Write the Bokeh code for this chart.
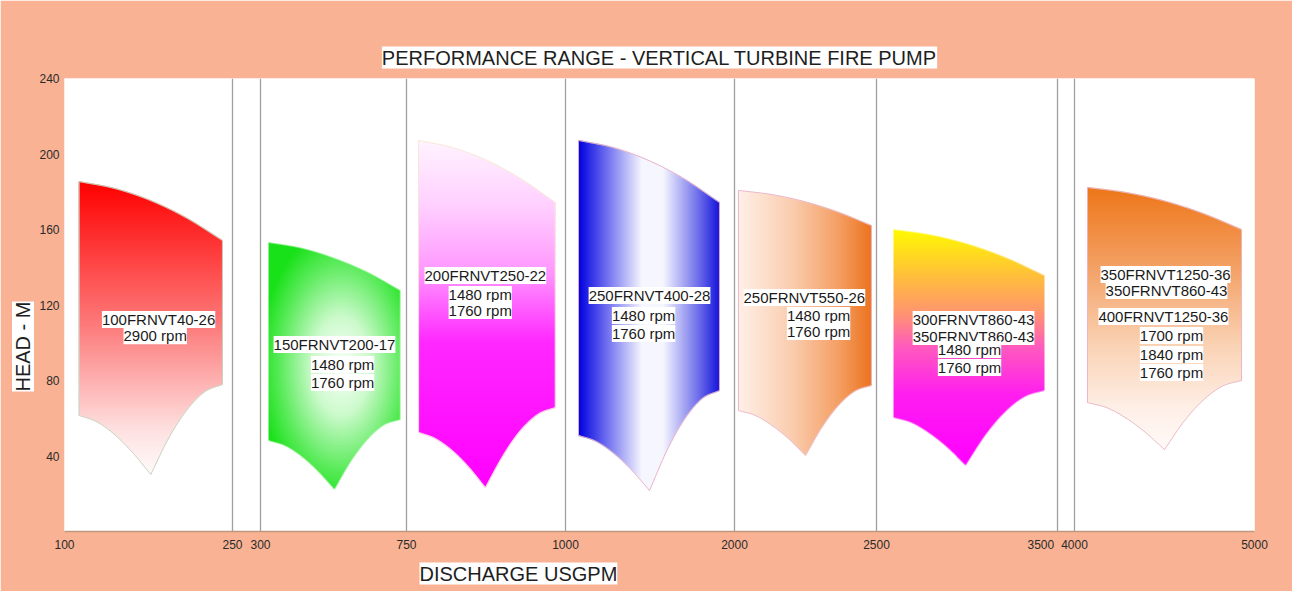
import numpy as np
from bokeh.plotting import figure
from bokeh.models import FixedTicker, Range1d, LabelSet, ColumnDataSource, Title
from bokeh.core.properties import value
from bokeh.embed import file_html
from bokeh.resources import INLINE

# ------------------------------------------------------------------ data
Q_BREAKS = [100, 250, 300, 750, 1000, 2000, 2500, 3500, 4000, 5000]
X_TICK_LABELS = ["100", "250", "300", "750", "1000", "2000", "2500", "3500", "4000", "5000"]
H_TICKS = [40, 80, 120, 160, 200, 240]

PUMPS = ["100FRNVT40-26", "150FRNVT200-17", "200FRNVT250-22", "250FRNVT400-28",
         "250FRNVT550-26", "300FRNVT860-43", "350FRNVT1250-36"]

# envelope outlines (discharge USGPM, head m):
# 5 points on the top curve, 5 on the right lower arc, 5 on the left lower arc (cusp shared)
q_100 = [113, 145, 177, 209, 241, 241, 225, 209, 193, 177, 161, 145, 129, 113]
h_100 = [185.4, 181.7, 175.3, 166.1, 154.2, 77.9, 74.0, 64.2, 49.5, 30.2, 41.7, 51.2, 58.1, 61.5]
q_150 = [325, 427, 528, 630, 731, 731, 680, 630, 579, 528, 477, 427, 376, 325]
h_150 = [153.1, 150.1, 144.8, 137.4, 127.7, 59.3, 56.3, 48.7, 37.2, 22.3, 31.9, 39.7, 45.4, 48.2]
q_200 = [769, 823, 877, 930, 984, 984, 957, 929, 902, 874, 848, 822, 795, 769]
h_200 = [207.2, 203.3, 196.5, 186.8, 174.3, 65.7, 62.2, 53.5, 40.4, 23.3, 34.1, 42.9, 49.3, 52.5]
q_250a = [1077, 1286, 1494, 1703, 1911, 1911, 1808, 1704, 1601, 1497, 1392, 1287, 1182, 1077]
h_250a = [207.2, 203.3, 196.5, 186.8, 174.3, 74.7, 70.4, 59.5, 43.1, 21.7, 32.5, 41.3, 47.7, 50.9]
q_250b = [2014, 2131, 2248, 2365, 2482, 2482, 2424, 2366, 2308, 2250, 2191, 2132, 2073, 2014]
h_250b = [180.7, 178.5, 174.7, 169.2, 162.1, 77.4, 74.4, 66.8, 55.3, 40.3, 49.1, 56.2, 61.5, 64.1]
q_300 = [2594, 2803, 3011, 3220, 3428, 3428, 3319, 3210, 3101, 2992, 2893, 2793, 2694, 2594]
h_300 = [160.0, 157.1, 152.1, 144.9, 135.6, 74.7, 71.4, 63.3, 51.0, 35.0, 44.4, 52.0, 57.6, 60.4]
q_350 = [4072, 4286, 4500, 4714, 4928, 4928, 4821, 4714, 4607, 4500, 4393, 4286, 4179, 4072]
h_350 = [182.3, 179.6, 175.1, 168.5, 160.0, 80.0, 77.0, 69.5, 58.2, 43.4, 52.6, 60.1, 65.6, 68.3]

LABEL_TEXT = ["100FRNVT40-26", "2900 rpm",
              "150FRNVT200-17", "1480 rpm", "1760 rpm",
              "200FRNVT250-22", "1480 rpm", "1760 rpm",
              "250FRNVT400-28", "1480 rpm", "1760 rpm",
              "250FRNVT550-26", "1480 rpm", "1760 rpm",
              "300FRNVT860-43", "350FRNVT860-43", "1480 rpm", "1760 rpm",
              "350FRNVT1250-36", "350FRNVT860-43", "400FRNVT1250-36",
              "1700 rpm", "1840 rpm", "1760 rpm"]
LABEL_Q = [184, 181,
           528, 553, 553,
           874, 866, 866,
           1497, 1462, 1462,
           2246, 2296, 2296,
           3036, 3036, 3014, 3014,
           4506, 4511, 4494, 4539, 4539, 4539]
LABEL_H = [112.3, 103.7,
           99.1, 88.5, 78.9,
           135.6, 125.6, 117.1,
           125.0, 114.4, 104.9,
           124.0, 114.4, 106.0,
           112.3, 103.3, 96.4, 86.9,
           136.2, 127.7, 113.9, 103.8, 93.8, 84.2]

# ------------------------------------------------------------------ layout / style
POS_BREAKS = [0, 168, 196, 342, 501, 670, 812, 993, 1010, 1190]   # axis segment positions (px)
W, HGT = 1292, 591
B_LEFT, B_RIGHT, B_TOP, B_BOTTOM = 64, 38, 78, 60
FRAME_W = W - B_LEFT - B_RIGHT
FRAME_H = HGT - B_TOP - B_BOTTOM
H_MAX = 240
PX_PER_H = FRAME_H / H_MAX
SALMON = "#F9B394"
FONT = "Liberation Sans"

STYLES = [
    dict(kind="v", stops=[(0, (255, 0, 0)), (0.5, (253, 125, 125)), (0.85, (254, 225, 225)), (1, (255, 250, 250))],
         line="#c0cdb8"),
    dict(kind="r", center=(0.55, 0.5, 0.62, 0.56),
         stops=[(0, (250, 255, 250)), (0.35, (205, 250, 205)), (0.75, (90, 235, 90)), (1, (25, 225, 25))],
         line=None),
    dict(kind="v", stops=[(0, (255, 244, 255)), (0.2, (255, 205, 255)), (0.38, (255, 150, 255)),
                          (0.58, (255, 40, 255)), (1, (255, 0, 255))], line="#f6e6d0"),
    dict(kind="h", stops=[(0, (0, 0, 225)), (0.2, (110, 110, 240)), (0.45, (246, 246, 255)),
                          (0.6, (246, 246, 255)), (0.85, (110, 110, 235)), (1, (20, 20, 220))],
         line="#e8a8c0"),
    dict(kind="h", stops=[(0, (255, 240, 232)), (0.4, (250, 205, 175)), (0.75, (244, 160, 100)),
                          (1, (236, 115, 30))], line="#e8b0c4"),
    dict(kind="v", stops=[(0, (255, 250, 0)), (0.2, (255, 190, 60)), (0.35, (255, 150, 110)),
                          (0.5, (255, 90, 190)), (0.7, (255, 30, 240)), (1, (255, 0, 255))], line=None),
    dict(kind="v", stops=[(0, (238, 118, 25)), (0.3, (243, 160, 100)), (0.6, (250, 210, 180)),
                          (0.85, (254, 240, 232)), (1, (255, 250, 248))], line="#e8b0c0"),
]


def to_pos(q):
    return np.interp(np.asarray(q, dtype=float), Q_BREAKS, POS_BREAKS)


def catmull(px, py, n=12):
    P = np.column_stack([px, py]).astype(float)
    P = np.vstack([2 * P[0] - P[1], P, 2 * P[-1] - P[-2]])
    out = []
    t = np.linspace(0, 1, n, endpoint=False)[:, None]
    for i in range(1, len(P) - 2):
        p0, p1, p2, p3 = P[i - 1], P[i], P[i + 1], P[i + 2]
        out.append(0.5 * ((2 * p1) + (-p0 + p2) * t + (2 * p0 - 5 * p1 + 4 * p2 - p3) * t ** 2
                          + (-p0 + 3 * p1 - 3 * p2 + p3) * t ** 3))
    out.append(P[-2][None, :])
    return np.vstack(out)


def smooth_outline(qs, hs):
    """Screen-space path through the read points: top curve, right arc, left arc."""
    x = to_pos(qs)
    y = np.asarray(hs, dtype=float) * PX_PER_H
    parts = [catmull(x[0:5], y[0:5]), catmull(x[5:10], y[5:10]), catmull(x[9:14], y[9:14])[1:]]
    path = np.vstack(parts)
    return path[:, 0], path[:, 1]


def inside(px, py, X, Y):
    res = np.zeros(X.shape, dtype=bool)
    n = len(px)
    j = n - 1
    for i in range(n):
        xi, yi, xj, yj = px[i], py[i], px[j], py[j]
        if yi != yj:
            res ^= ((yi > Y) != (yj > Y)) & (X < (xj - xi) * (Y - yi) / (yj - yi) + xi)
        j = i
    return res


def gradient_image(xs, ys, st):
    x0 = np.floor(xs.min()) - 1
    x1 = np.ceil(xs.max()) + 1
    y0 = np.floor(ys.min()) - 1
    y1 = np.ceil(ys.max()) + 1
    nx, ny = int(x1 - x0), int(y1 - y0)
    S = 4
    sx = x0 + (np.arange(nx * S) + 0.5) / S
    sy = y0 + (np.arange(ny * S) + 0.5) / S
    X, Y = np.meshgrid(sx, sy)
    cov = inside(xs, ys, X, Y).astype(float).reshape(ny, S, nx, S).mean(axis=(1, 3))
    CX, CY = np.meshgrid(x0 + np.arange(nx) + 0.5, y0 + np.arange(ny) + 0.5)
    u = (CX - xs.min()) / (xs.max() - xs.min())
    v = (ys.max() - CY) / (ys.max() - ys.min())
    if st["kind"] == "v":
        t = v
    elif st["kind"] == "h":
        t = u
    else:
        cu, cv, ru, rv = st["center"]
        t = np.sqrt(((u - cu) / ru) ** 2 + ((v - cv) / rv) ** 2)
    t = np.clip(t, 0, 1)
    sp = [s[0] for s in st["stops"]]
    rgba = np.zeros((ny, nx, 4), dtype=np.uint8)
    for c in range(3):
        rgba[..., c] = np.round(np.interp(t, sp, [s[1][c] for s in st["stops"]]))
    rgba[..., 3] = np.round(cov * 255)
    img = rgba.view(np.uint32).reshape(ny, nx)
    return img, x0, y0 / PX_PER_H, nx, ny / PX_PER_H


p = figure(width=W, height=HGT, output_backend="svg", toolbar_location=None,
           x_range=Range1d(0, POS_BREAKS[-1]), y_range=Range1d(0, H_MAX),
           min_border_left=B_LEFT, min_border_right=B_RIGHT,
           min_border_top=B_TOP, min_border_bottom=B_BOTTOM,
           background_fill_color="white", border_fill_color=SALMON,
           outline_line_color=None,
           title="PERFORMANCE RANGE - VERTICAL TURBINE FIRE PUMP")

p.title.align = "center"
p.title.text_font = FONT
p.title.text_font_size = "20px"
p.title.text_font_style = "normal"
p.title.text_color = "#1e1e1e"
p.title.background_fill_color = "white"
p.title.standoff = 20

# grid: vertical separators at the segment breaks
p.xgrid.ticker = FixedTicker(ticks=POS_BREAKS[1:])
p.xgrid.grid_line_color = "#a0a0a0"
p.xgrid.grid_line_width = 1.3
p.ygrid.visible = False

# axes
p.xaxis.ticker = FixedTicker(ticks=POS_BREAKS)
overrides = {pos: lab for pos, lab in zip(POS_BREAKS, X_TICK_LABELS)}
overrides[POS_BREAKS[7]] = X_TICK_LABELS[7] + "\u00a0" * 10
p.xaxis.major_label_overrides = overrides
p.yaxis.ticker = FixedTicker(ticks=H_TICKS)
for ax in (p.xaxis[0], p.yaxis[0]):
    ax.major_tick_out = 0
    ax.major_tick_in = 0
    ax.minor_tick_out = 0
    ax.minor_tick_in = 0
    ax.major_label_text_font = FONT
    ax.major_label_text_font_size = "12px"
    ax.major_label_text_color = "#2a2a2a"
p.xaxis.axis_line_color = "#c09680"
p.xaxis.axis_line_width = 1.5
p.yaxis.axis_line_color = None
p.xaxis.major_label_standoff = 6
p.yaxis.major_label_standoff = 5

# axis titles (white boxed)
p.add_layout(Title(text="DISCHARGE USGPM", align="left", offset=355, standoff=12,
                   text_font=FONT, text_font_size="20px", text_font_style="normal",
                   text_color="#1e1e1e", background_fill_color="white"), "below")
p.add_layout(Title(text="HEAD - M", align="left", offset=140, standoff=5,
                   text_font=FONT, text_font_size="20px", text_font_style="normal",
                   text_color="#1e1e1e", background_fill_color="white"), "left")

# pump envelopes
outlines = [(q_100, h_100), (q_150, h_150), (q_200, h_200), (q_250a, h_250a),
            (q_250b, h_250b), (q_300, h_300), (q_350, h_350)]
for (qs, hs), st in zip(outlines, STYLES):
    px, py = smooth_outline(qs, hs)
    img, x0, y0, dw, dh = gradient_image(px, py, st)
    p.image_rgba(image=[img], x=x0, y=y0, dw=dw, dh=dh)
    p.patch(px, py / PX_PER_H, fill_alpha=0, line_color=st["line"], line_width=1,
            line_alpha=0.9 if st["line"] else 0)

# model / speed labels
lab_src = ColumnDataSource(dict(x=to_pos(LABEL_Q), y=LABEL_H, text=LABEL_TEXT))
p.add_layout(LabelSet(x="x", y="y", text="text", source=lab_src,
                      text_align="center", text_baseline="middle", text_font=value(FONT),
                      text_font_size="15px", text_color="#1a1a1a",
                      background_fill_color="white", background_fill_alpha=1))

open("out.html", "w").write(file_html(p, INLINE))
